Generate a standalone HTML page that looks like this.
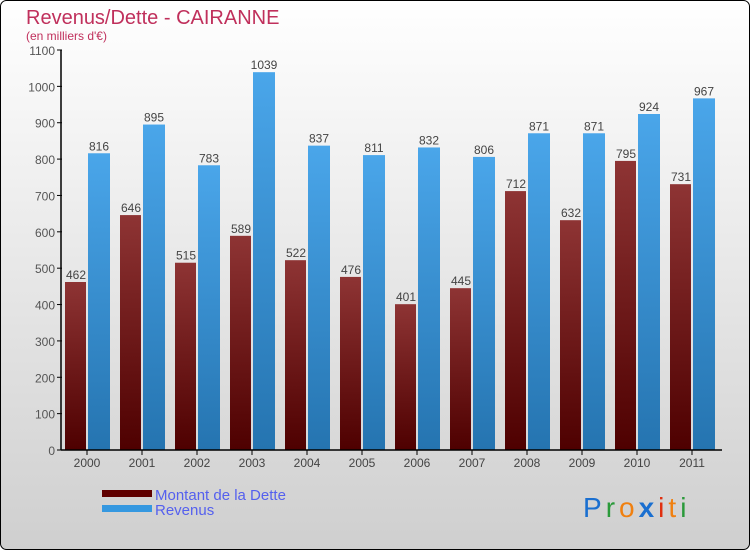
<!DOCTYPE html>
<html><head><meta charset="utf-8"><style>
html,body{margin:0;padding:0;width:750px;height:550px;overflow:hidden;font-family:"Liberation Sans",sans-serif}
</style></head><body>
<svg width="750" height="550" xmlns="http://www.w3.org/2000/svg">
<defs>
<linearGradient id="bg" x1="0" y1="0" x2="0" y2="1"><stop offset="0" stop-color="#ffffff"/><stop offset="1" stop-color="#cfcfcf"/></linearGradient>
<linearGradient id="gr" x1="0" y1="0" x2="0" y2="1"><stop offset="0" stop-color="#8e3434"/><stop offset="1" stop-color="#4e0000"/></linearGradient>
<linearGradient id="gb" x1="0" y1="0" x2="0" y2="1"><stop offset="0" stop-color="#4aa6ea"/><stop offset="1" stop-color="#2574b0"/></linearGradient>
</defs>
<rect x="0.5" y="0.5" width="749" height="549" rx="6" fill="url(#bg)" stroke="#000"/>
<text x="26" y="24" font-size="20" fill="#c0305c">Revenus/Dette - CAIRANNE</text>
<text x="26" y="40" font-size="12" fill="#c0305c">(en milliers d'€)</text>
<g id="plot"></g>
<g>
<rect x="102" y="490" width="50" height="7" fill="#600000"/>
<text x="155" y="500" font-size="15" fill="#5560ee">Montant de la Dette</text>
<rect x="102" y="505" width="50" height="7" fill="#3598e0"/>
<text x="155" y="515" font-size="15" fill="#5560ee">Revenus</text>
</g>
<g font-size="28" font-family="'Liberation Sans',sans-serif">
<text x="583" y="517" letter-spacing="4"><tspan fill="#1a6fd0">P</tspan><tspan fill="#2a9a3a">r</tspan><tspan fill="#f08010">o</tspan><tspan fill="#1a6fd0" font-weight="bold">x</tspan><tspan fill="#e03010">i</tspan><tspan fill="#f08010">t</tspan><tspan fill="#2a9a3a">i</tspan></text>
</g>
</svg>
<script>
const years=["2000","2001","2002","2003","2004","2005","2006","2007","2008","2009","2010","2011"];
const dette=[462,646,515,589,522,476,401,445,712,632,795,731];
const revenus=[816,895,783,1039,837,811,832,806,871,871,924,967];
const ticks=[0,100,200,300,400,500,600,700,800,900,1000,1100];
const NS="http://www.w3.org/2000/svg";
const g=document.getElementById('plot');
const y=v=>450-v*400/1100;
const xc=i=>87+i*55;
function mk(t,a){const e=document.createElementNS(NS,t);for(const k in a)e.setAttribute(k,a[k]);g.appendChild(e);return e;}
ticks.forEach(t=>{
 const l=mk('line',{x1:57,x2:62,y1:y(t),y2:y(t),stroke:'#000'});
 
 
 const tx=mk('text',{x:55,y:y(t)+5,'text-anchor':'end','font-size':12,fill:'#555'});
 tx.textContent=t;
 
 
});
years.forEach((yr,i)=>{
 const r=mk('rect',{x:xc(i)-22,y:y(dette[i]),width:21,height:450-y(dette[i]),fill:'url(#gr)'});
 
 
 const b=mk('rect',{x:xc(i)+1,y:y(revenus[i]),width:22,height:450-y(revenus[i]),fill:'url(#gb)'});
 
 
 const l1=mk('text',{x:xc(i)-11,y:y(dette[i])-3,'text-anchor':'middle','font-size':12,fill:'#444'});
 l1.textContent=dette[i];
 
 
 const l2=mk('text',{x:xc(i)+12,y:y(revenus[i])-3,'text-anchor':'middle','font-size':12,fill:'#444'});
 l2.textContent=revenus[i];
 
 
 const tk=mk('line',{x1:xc(i),x2:xc(i),y1:450,y2:455,stroke:'#000'});
 
 
 const xl=mk('text',{x:xc(i),y:467,'text-anchor':'middle','font-size':12,fill:'#444'});
 xl.textContent=yr;
 
 
});
const ax=mk('line',{x1:61,x2:61,y1:50,y2:450,stroke:'#000','stroke-width':1.5});


const xa=mk('line',{x1:61,x2:722,y1:450,y2:450,stroke:'#000','stroke-width':1.5});


</script>
</body></html>
